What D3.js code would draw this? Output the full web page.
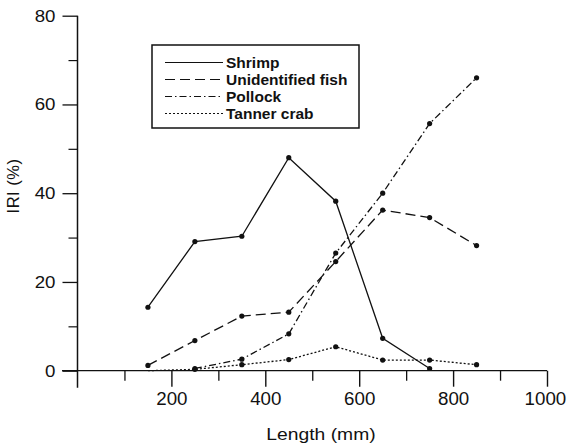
<!DOCTYPE html>
<html><head><meta charset="utf-8">
<script src="https://cdn.jsdelivr.net/npm/d3@7"></script>
<style>
html,body{margin:0;padding:0;background:#fff;}
svg{display:block;font-family:"Liberation Sans",Arial,sans-serif;}
</style></head>
<body><svg id="c" width="568" height="444"></svg>
<script>
const lengths = [150, 250, 350, 450, 550, 650, 750, 850];
const shrimp = [14.3, 29.1, 30.3, 48.0, 38.2, 7.3, 0.5, null];
const unidentifiedFish = [1.2, 6.8, 12.3, 13.2, 24.6, 36.2, 34.5, 28.2];
const pollock = [null, 0.5, 2.6, 8.3, 26.5, 40.0, 55.7, 66.0];
const tannerCrab = [0, 0.3, 1.35, 2.5, 5.4, 2.4, 2.4, 1.35];
const seriesNames = ["Shrimp", "Unidentified fish", "Pollock", "Tanner crab"];
const xMajorTicks = [200, 400, 600, 800, 1000];
const xMinorTicks = [100, 300, 500, 700, 900];
const yMajorTicks = [0, 20, 40, 60, 80];
const yMinorTicks = [10, 30, 50, 70];

const dashes = ["none", "10,5", "7,3,1.5,3", "2,2"];
const seriesValues = [shrimp, unidentifiedFish, pollock, tannerCrab];

const svg = d3.select("#c");
const x = d3.scaleLinear().domain([0, 1000]).range([77.5, 547]);
const y = d3.scaleLinear().domain([0, 80]).range([370.7, 15.7]);
const ink = "#111";

// axis lines
svg.append("line").attr("x1", x(0) - 15.5).attr("x2", x(1000))
  .attr("y1", y(0)).attr("y2", y(0)).attr("stroke", ink).attr("stroke-width", 1.3);
svg.append("line").attr("x1", x(0)).attr("x2", x(0))
  .attr("y1", y(80)).attr("y2", y(0) + 17).attr("stroke", ink).attr("stroke-width", 1.5);

// x axis
const gx = svg.append("g").attr("transform", `translate(0,${y(0)})`);
gx.call(d3.axisBottom(x).tickValues(xMajorTicks).tickSize(16).tickPadding(4).tickFormat(d3.format("d")));
gx.select(".domain").remove();
gx.selectAll(".tick line").attr("stroke", ink).attr("stroke-width", 1.4);
gx.selectAll(".tick text").attr("font-size", 18).attr("fill", ink)
  .attr("font-family", "Liberation Sans, Arial, sans-serif")
  .attr("transform", "scale(1.04,1)").attr("y", 21.5).attr("dy", "0.71em")
  .attr("x", d => d === 1000 ? -2 : 0);
const gx2 = svg.append("g").attr("transform", `translate(0,${y(0)})`);
gx2.call(d3.axisBottom(x).tickValues(xMinorTicks).tickSize(10).tickFormat(""));
gx2.select(".domain").remove();
gx2.selectAll(".tick line").attr("stroke", ink).attr("stroke-width", 1.3);

// y axis
const gy = svg.append("g").attr("transform", `translate(${x(0)},0)`);
gy.call(d3.axisLeft(y).tickValues(yMajorTicks).tickSize(15).tickPadding(7).tickFormat(d3.format("d")));
gy.select(".domain").remove();
gy.selectAll(".tick line").attr("stroke", ink).attr("stroke-width", 1.3);
gy.selectAll(".tick text").attr("font-size", 17).attr("fill", ink)
  .attr("font-family", "Liberation Sans, Arial, sans-serif")
  .attr("transform", "scale(1.1,1)").attr("x", -22 / 1.1);
const gy2 = svg.append("g").attr("transform", `translate(${x(0)},0)`);
gy2.call(d3.axisLeft(y).tickValues(yMinorTicks).tickSize(9).tickFormat(""));
gy2.select(".domain").remove();
gy2.selectAll(".tick line").attr("stroke", ink).attr("stroke-width", 1.2);

// axis titles
svg.append("text").attr("transform", "translate(321,440) scale(1.17,1)")
  .attr("text-anchor", "middle").attr("font-size", 16.5).attr("fill", ink).text("Length (mm)");
svg.append("text").attr("transform", "translate(19,186) rotate(-90)")
  .attr("text-anchor", "middle").attr("font-size", 16.5).attr("letter-spacing", 0.5)
  .attr("fill", ink).text("IRI (%)");

// series
const line = d3.line().defined(d => d.v !== null).x(d => x(d.x)).y(d => y(d.v));
seriesValues.forEach((vals, i) => {
  const pts = lengths.map((l, j) => ({ x: l, v: vals[j] }));
  svg.append("path").datum(pts).attr("d", line).attr("fill", "none")
    .attr("stroke", ink).attr("stroke-width", 1.3).attr("stroke-dasharray", dashes[i]);
  svg.selectAll(null).data(pts.filter(d => d.v !== null && d.v > 0)).enter()
    .append("circle").attr("cx", d => x(d.x)).attr("cy", d => y(d.v))
    .attr("r", 2.6).attr("fill", ink);
});

// legend
const lg = svg.append("g");
lg.append("rect").attr("x", 152).attr("y", 45).attr("width", 207).attr("height", 83)
  .attr("fill", "#fff").attr("stroke", ink).attr("stroke-width", 1.5);
seriesNames.forEach((name, i) => {
  const yy = 62.5 + i * 17;
  lg.append("line").attr("x1", 165).attr("x2", 223).attr("y1", yy).attr("y2", yy)
    .attr("stroke", ink).attr("stroke-width", 1.2).attr("stroke-dasharray", dashes[i]);
  lg.append("text").attr("x", 226).attr("y", yy + 5.5).attr("font-size", 15.5)
    .attr("font-weight", "bold").attr("fill", ink).text(name);
});
</script></body></html>
